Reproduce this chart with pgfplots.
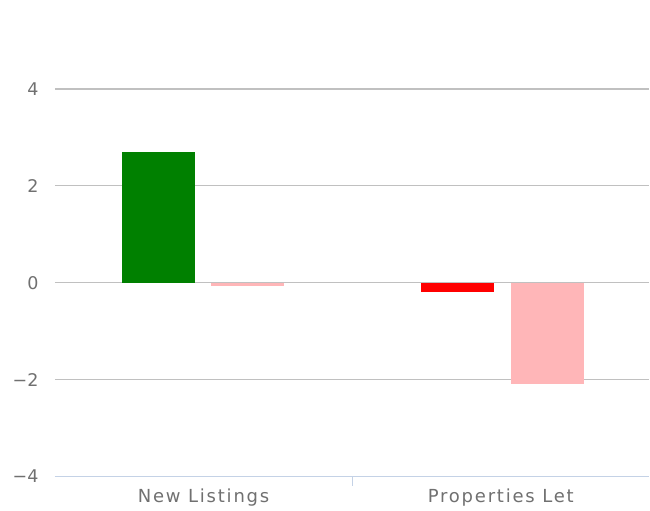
\documentclass[border=0pt]{standalone}
\usepackage{fontspec}
\setmainfont{DejaVu Sans}
\newfontfamily\catfont{DejaVu Sans}[LetterSpace=10]
\usepackage{pgfplots}
\pgfplotsset{compat=1.18}
\definecolor{gridgray}{HTML}{C0C0C0}
\definecolor{axisblue}{HTML}{C4D2E6}
\definecolor{txtgray}{HTML}{707070}
\definecolor{bgreen}{HTML}{008000}
\definecolor{bred}{HTML}{FF0000}
\definecolor{bpink}{HTML}{FFB6B8}
\begin{document}
\begin{tikzpicture}
\begin{axis}[
  at={(0,0)}, anchor=south west,
  scale only axis, width=595bp, height=388bp,
  xmin=-0.5, xmax=1.5, ymin=-4, ymax=4,
  xtick={0,1}, xticklabels={New Listings,Properties Let},
  ytick={-4,-2,0,2,4}, yticklabels={−4,−2,0,2,4},
  ymajorgrids, grid style={gridgray, line width=1.2bp},
  separate axis lines,
  axis line style={draw=none, draw opacity=0}, tick style={draw=none},
  yticklabel style={font=\fontsize{17.5bp}{20bp}\selectfont, text=txtgray, anchor=east, xshift=-13bp},
  xticklabel style={font=\catfont\fontsize{18bp}{20bp}\selectfont, text=txtgray, anchor=north, yshift=-5bp},
  ybar, bar width=73bp,
  clip=false,
]
\addplot[fill=bgreen, draw=none, bar shift=-45bp] coordinates {(0,2.7)};
\addplot[fill=bpink, draw=none, bar shift=44bp] coordinates {(0,-0.07)};
\addplot[fill=bred, draw=none, bar shift=-43bp] coordinates {(1,-0.2)};
\addplot[fill=bpink, draw=none, bar shift=47bp] coordinates {(1,-2.1)};
\draw[axisblue, line width=1.2bp] (rel axis cs:0,0) -- (rel axis cs:1,0);
\draw[axisblue, line width=1.2bp] (axis cs:0.5,-4) -- ([yshift=-9bp]axis cs:0.5,-4);
\end{axis}
\path[use as bounding box] (-55bp,-33bp) rectangle (595bp,477bp);
\end{tikzpicture}
\end{document}
